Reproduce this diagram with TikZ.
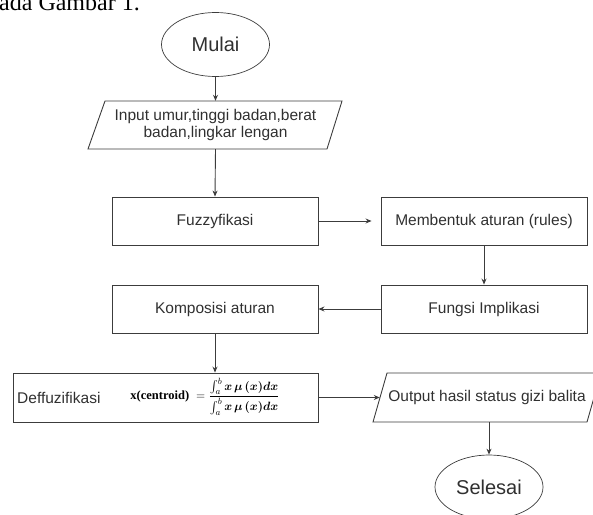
\documentclass[tikz,border=0pt]{standalone}
\usepackage{fontspec}
\usepackage{amsmath,bm}
\setmainfont{Liberation Sans}
\newfontfamily\tnr{Liberation Serif}
\usetikzlibrary{shapes.geometric,arrows.meta}
\definecolor{ln}{HTML}{3C3C3C}
\definecolor{tx}{HTML}{303030}
\tikzset{
  flow/.style={draw=ln,line width=0.9pt,-{Stealth[length=6pt,width=5pt]}},
  procbox/.style={draw=ln,line width=0.9pt,rectangle,minimum width=206pt,minimum height=48pt,inner sep=0pt,text=tx,font=\fontsize{15.5}{17}\selectfont},
  termbox/.style={draw=ln,line width=0.7pt,ellipse,minimum width=108pt,minimum height=64pt,inner sep=0pt,text=tx,font=\fontsize{20}{22}\selectfont},
  iotext/.style={inner sep=0pt,text=tx,font=\fontsize{15.5}{17}\selectfont,align=center},
  shapeline/.style={draw=ln,line width=0.9pt}
}
\begin{document}
\begin{tikzpicture}[x=1pt,y=-1pt]
\clip (0,0) rectangle (593,514);
\useasboundingbox (0,0) rectangle (593,514);
% surrounding document text (cut)
\node[anchor=base west,inner sep=0pt,font=\tnr\fontsize{24}{26}\selectfont] (caption) at (-1,10) {ada Gambar 1.};
% start
\node[termbox] (mulai) at (215.5,44.5) {Mulai};
% input parallelogram
\node[iotext,minimum width=222pt,minimum height=48pt] (input) at (215.5,125) {Input umur,tinggi badan,berat\\badan,lingkar lengan};
\draw[shapeline] (105,101) -- (342,101) -- (327,149) -- (88,149) -- cycle;
% process boxes
\node[procbox] (fuzzy) at (215,221) {Fuzzyfikasi};
\node[procbox] (rules) at (484,221) {Membentuk aturan (rules)};
\node[procbox] (impl) at (484,309) {Fungsi Implikasi};
\node[procbox] (komp) at (215,309) {Komposisi aturan};
\node[procbox,minimum width=305pt,minimum height=49pt] (defuz) at (165.5,397.5) {};
\node[anchor=west,inner sep=0pt,text=tx,font=\fontsize{15.5}{17}\selectfont] (defuzlabel) at (17,397.5) {Deffuzifikasi};
\node[inner sep=0pt,text=black,font=\fontsize{12.5}{14}\selectfont] (formula) at (205,396.5)
  {{\tnr\bfseries x(centroid)}\; $=\dfrac{\int_a^b \bm{x\,\mu\,(x)dx}}{\int_a^b \bm{x\,\mu\,(x)dx}}$};
% output parallelogram
\node[iotext,minimum width=214pt,minimum height=49pt] (output) at (487,397.5) {Output hasil status gizi balita};
\draw[shapeline] (387,373) -- (601,373) -- (587,422) -- (373,422) -- cycle;
% end
\node[termbox] (selesai) at (489,487) {Selesai};
% connectors
\draw[flow] (mulai.south) -- (input.north);
\draw[flow] (input.south) -- (fuzzy.north);
\draw[flow,shorten >=9pt] (fuzzy.east) -- (rules.west);
\draw[flow] (rules.south) -- (impl.north);
\draw[flow] (impl.west) -- (komp.east);
\draw[flow] (komp.south) -- (komp.south |- defuz.north);
\draw[flow] (defuz.east) -- (output.west);
\draw[flow] (output.south -| selesai.north) -- (selesai.north);
\end{tikzpicture}
\end{document}
